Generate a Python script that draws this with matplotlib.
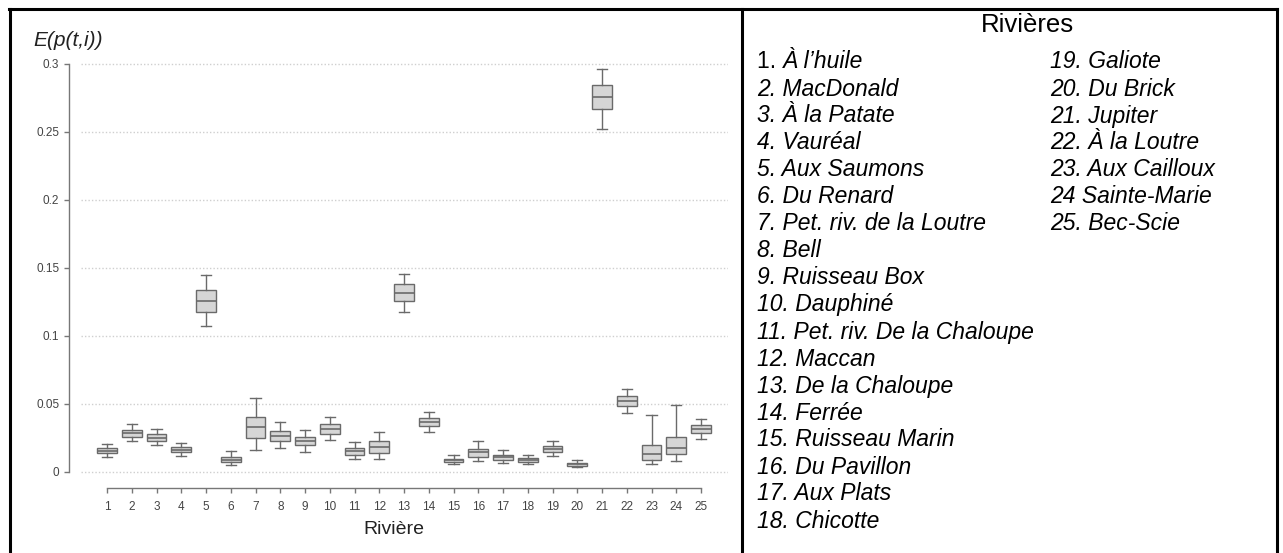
import matplotlib
matplotlib.use("Agg")
import matplotlib.pyplot as plt
from matplotlib.lines import Line2D

# box statistics per river (whisker low, Q1, median, Q3, whisker high)
rivers = list(range(1, 26))
whis_lo = [0.0110, 0.0226, 0.0199, 0.0120, 0.1071, 0.0051, 0.0162, 0.0176, 0.0149, 0.0235,
           0.0093, 0.0093, 0.1176, 0.0296, 0.0059, 0.0081, 0.0068, 0.0057, 0.0115, 0.0034,
           0.2524, 0.0436, 0.0061, 0.0083, 0.0245]
q1 = [0.0137, 0.0260, 0.0228, 0.0147, 0.1179, 0.0071, 0.0250, 0.0228, 0.0196, 0.0279,
      0.0123, 0.0137, 0.1257, 0.0336, 0.0071, 0.0113, 0.0090, 0.0074, 0.0145, 0.0046,
      0.2671, 0.0485, 0.0088, 0.0130, 0.0284]
med = [0.0157, 0.0285, 0.0252, 0.0164, 0.1260, 0.0088, 0.0329, 0.0267, 0.0226, 0.0319,
       0.0154, 0.0181, 0.1314, 0.0365, 0.0086, 0.0145, 0.0110, 0.0088, 0.0169, 0.0057,
       0.2757, 0.0522, 0.0132, 0.0176, 0.0316]
q3 = [0.0174, 0.0310, 0.0277, 0.0181, 0.1336, 0.0108, 0.0407, 0.0301, 0.0255, 0.0353,
      0.0176, 0.0226, 0.1382, 0.0395, 0.0098, 0.0169, 0.0127, 0.0100, 0.0189, 0.0066,
      0.2843, 0.0559, 0.0196, 0.0255, 0.0346]
whis_hi = [0.0206, 0.0350, 0.0316, 0.0211, 0.1446, 0.0157, 0.0544, 0.0365, 0.0309, 0.0402,
           0.0223, 0.0294, 0.1458, 0.0441, 0.0125, 0.0226, 0.0164, 0.0125, 0.0228, 0.0088,
           0.2966, 0.0608, 0.0419, 0.0495, 0.0388]

y_ticks = [0, 0.05, 0.1, 0.15, 0.2, 0.25, 0.3]
y_ticklabels = ["0", "0.05", "0.1", "0.15", "0.2", "0.25", "0.3"]

names = ["À l’huile", "MacDonald", "À la Patate", "Vauréal", "Aux Saumons", "Du Renard",
         "Pet. riv. de la Loutre", "Bell", "Ruisseau Box", "Dauphiné",
         "Pet. riv. De la Chaloupe", "Maccan", "De la Chaloupe", "Ferrée", "Ruisseau Marin",
         "Du Pavillon", "Aux Plats", "Chicotte", "Galiote", "Du Brick", "Jupiter",
         "À la Loutre", "Aux Cailloux", "Sainte-Marie", "Bec-Scie"]

W, H = 1283, 553
fig = plt.figure(figsize=(W / 100, H / 100), dpi=100)
plt.rcParams["font.family"] = ["Liberation Sans", "DejaVu Sans"]


def fx(px):
    return px / W


def fy(py):
    return 1 - py / H


# axes placed so the grid spans the plotting area
ax = fig.add_axes([fx(81), fy(488), fx(728) - fx(81), fy(56) - fy(488)])
ax.set_xlim(1 - 26 / 24.75, 25 + 27 / 24.75)
ax.set_ylim(-16 / 1360, 0.3 + 8 / 1360)

stats = [dict(whislo=a, q1=b, med=c, q3=d, whishi=e, fliers=[])
         for a, b, c, d, e in zip(whis_lo, q1, med, q3, whis_hi)]
edge = "#6a6a6a"
ax.bxp(stats, positions=rivers, widths=0.8, capwidths=0.42, patch_artist=True,
       boxprops=dict(facecolor="#d6d6d6", edgecolor=edge, linewidth=1.0),
       medianprops=dict(color=edge, linewidth=1.2),
       whiskerprops=dict(color=edge, linewidth=1.0),
       capprops=dict(color=edge, linewidth=1.0))

for y in y_ticks:
    ax.axhline(y, color="#cfcfcf", linestyle=(0, (1, 1.5)), linewidth=1.0, zorder=0)

for s in ["top", "right"]:
    ax.spines[s].set_visible(False)
ax.spines["left"].set_position(("outward", 8.6))
ax.spines["left"].set_bounds(0, 0.3)
ax.spines["bottom"].set_bounds(1, 25)
for s in ["left", "bottom"]:
    ax.spines[s].set_color("#777777")
    ax.spines[s].set_linewidth(1.0)

ax.set_yticks(y_ticks)
ax.set_yticklabels(y_ticklabels)
ax.set_xticks(rivers)
ax.set_xticklabels([str(r) for r in rivers])
ax.tick_params(axis="both", colors="#777777", labelcolor="#444444", labelsize=8.5,
               length=3.5, width=1.0)
ax.tick_params(axis="x", pad=6)
ax.set_xlabel("Rivière", fontsize=14, color="#222222")
ax.xaxis.set_label_coords((394 - 81) / (728 - 81), -(530 - 488) / (488 - 56), transform=ax.transAxes)
ax.xaxis.label.set_va("center")

fig.text(fx(33), fy(41), "E(p(t,i))", fontsize=15, style="italic", color="#222222",
         ha="left", va="center")

# river list on the right
fig.text(fx(1027), fy(25), "Rivières", fontsize=18.5, ha="center", va="center")
line_h = 27
fs = 16.5
for i, nm in enumerate(names):
    n = i + 1
    col = 0 if n <= 18 else 1
    row = i if n <= 18 else i - 18
    x0 = 757 if col == 0 else 1050
    y0 = 62 + row * line_h
    if n == 1:
        t = fig.text(fx(x0), fy(y0), "1. ", fontsize=fs, ha="left", va="center")
        fig.canvas.draw()
        bb = t.get_window_extent()
        fig.text(bb.x1 / W, fy(y0), nm, fontsize=fs, style="italic",
                 ha="left", va="center")
    else:
        sep = " " if n == 24 else ". "
        fig.text(fx(x0), fy(y0), f"{n}{sep}{nm}", fontsize=fs, style="italic",
                 ha="left", va="center")

# table borders
lw = 2.2
fig.add_artist(Line2D([fx(9), fx(1277)], [fy(9), fy(9)], color="black", lw=lw))
fig.add_artist(Line2D([fx(10), fx(10)], [fy(9), fy(553)], color="black", lw=lw))
fig.add_artist(Line2D([fx(742), fx(742)], [fy(9), fy(553)], color="black", lw=lw))
fig.add_artist(Line2D([fx(1277), fx(1277)], [fy(9), fy(553)], color="black", lw=lw))

fig.savefig("out.png", dpi=100)
